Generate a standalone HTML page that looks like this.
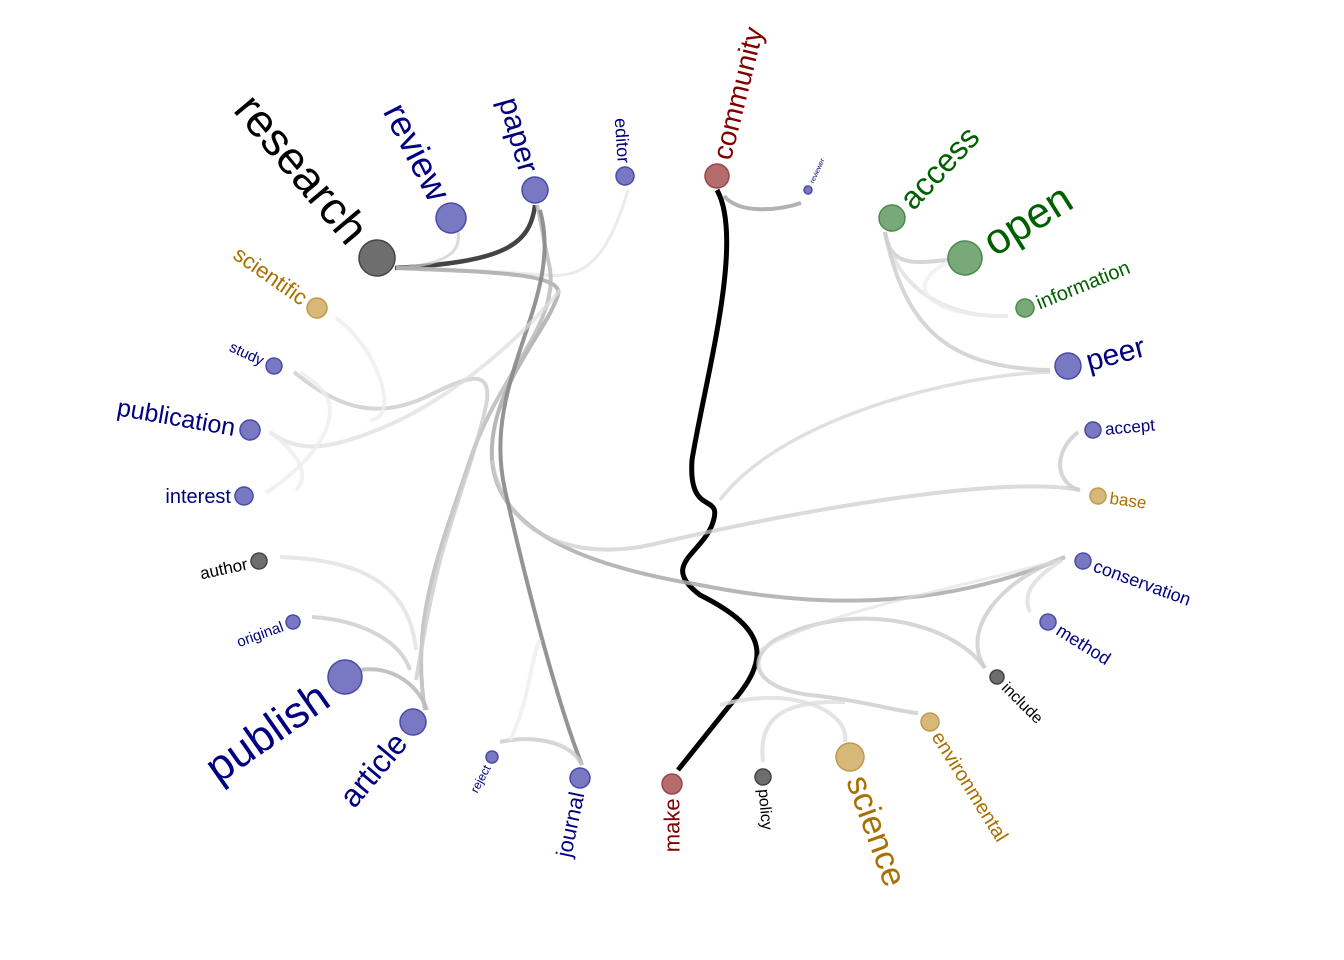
<!DOCTYPE html>
<html><head><meta charset="utf-8"><style>
html,body{margin:0;padding:0;background:#fff;}
svg{display:block;font-family:"Liberation Sans",sans-serif;}
</style></head><body>
<svg id="chart" width="1344" height="960" viewBox="0 0 1344 960">
<g id="links"></g>
<g id="nodes"></g>
</svg>
<script>
const words = ["research","review","paper","editor","community","reviewer","access","open","information","peer","accept","base","conservation","method","include","environmental","science","policy","make","journal","reject","article","publish","original","author","interest","publication","study","scientific"];
const xs = [377,451,535,625,717,808,892,965,1025,1068,1093,1098,1083,1048,997,930,850,763,672,580,492,413,345,293,259,244,250,274,317];
const ys = [258,218,190,176,176,190,218,258,308,366,430,496,561,622,677,722,757,777,784,778,757,722,677,622,561,496,430,366,308];
const radii = [18,15,13,9,12,4,13,17,9,13,8,8,8,8,7,9,14,8,10,10,6,13,17,7,8,9,10,8,10];
const groups = ["g","b","b","b","r","b","G","G","G","b","b","y","b","b","g","y","y","g","r","b","b","b","b","b","g","b","b","b","y"];
const fontSizes = [46,36,30,18,28,7,32,43,20,30,17,17,18,18,16,20,34,16,22,22,12,32,44,15,17,20,25,15,22];
const angles = [50,63,74,86,-76,-65,-47,-32,-22,-15,-5,8,20,32,45,58,70,85,-90,-78,-62,-50,-35,-20,-12,0,10,25,35];
const sides = ["e","e","e","e","s","s","s","s","s","s","s","s","s","s","s","s","s","s","e","e","e","e","e","e","e","e","e","e","e"];

const links = [
 ["M535,205 C530,245 505,262 395,268","#444",4.5,1],
 ["M458,232 C462,255 440,265 396,268","#ccc",3,0.7],
 ["M628,190 C610,250 590,280 545,275 C480,270 430,268 396,268","#ddd",3,0.6],
 ["M717,190 C745,240 705,380 692,460 C688,520 725,490 712,525 C700,555 660,565 700,595 C770,630 770,660 730,705 L678,770","#000",5,1],
 ["M724,196 C740,215 780,210 801,203","#aaa",4,0.9],
 ["M396,268 C480,272 565,272 558,295 C545,335 488,390 492,460 C498,540 610,570 700,585 C800,605 930,615 1065,557","#aaa",4,0.85],
 ["M492,460 C505,540 580,560 650,545 C800,510 1000,475 1080,490","#ccc",4,0.7],
 ["M1050,372 C950,375 780,420 720,500","#ccc",3.5,0.6],
 ["M425,710 C410,620 440,550 470,460 C500,370 565,320 548,260 C542,232 540,215 537,205","#bbb",4,0.85],
 ["M540,210 C565,300 480,380 505,490 C530,600 560,710 582,765","#888",4,0.9],
 ["M500,742 C530,735 570,740 582,765","#ccc",4,0.8],
 ["M510,740 C530,700 530,660 540,640","#eee",4,0.8],
 ["M360,670 C395,665 420,688 427,710","#bbb",4,0.9],
 ["M312,617 C360,620 400,640 410,670","#ccc",4,0.8],
 ["M280,557 C370,560 410,590 416,650","#ddd",4,0.7],
 ["M294,372 C340,410 380,420 430,395 C470,375 490,370 487,400 C480,440 460,490 440,560 C425,620 420,660 416,680","#ccc",4,0.8],
 ["M270,432 C300,455 335,450 400,420 C460,390 520,340 560,290","#ddd",4,0.7],
 ["M266,493 C300,470 330,440 330,410 C330,390 310,380 300,372","#eee",4,0.8],
 ["M270,432 C300,455 310,475 296,490","#eee",4,0.8],
 ["M336,318 C380,350 400,420 370,420","#eee",4,0.8],
 ["M885,232 C890,270 920,262 948,260","#ccc",4,0.8],
 ["M885,232 C900,300 960,318 1008,316","#ddd",4,0.7],
 ["M948,262 C895,290 940,318 1008,316","#eee",4,0.7],
 ["M885,232 C905,330 950,368 1050,370","#ccc",4,0.8],
 ["M1078,432 C1050,455 1058,485 1080,490","#ccc",4,0.8],
 ["M1065,557 C1000,580 960,630 985,668","#ccc",4,0.8],
 ["M1030,612 C1020,590 1040,575 1062,560","#ddd",4,0.8],
 ["M985,668 C950,620 850,600 775,640 C745,660 755,688 810,695 C860,700 900,712 918,713","#ccc",4,0.8],
 ["M845,742 C850,710 790,685 720,705","#ddd",4,0.8],
 ["M763,762 C758,720 780,700 845,702","#ddd",4,0.8],
 ["M1060,560 C950,590 830,610 760,650","#ddd",3,0.6]
];

const fill = {g:"#666",b:"#7272c0",r:"#b06464",G:"#72a472",y:"#d4b472"};
const stroke = {g:"#444",b:"#4a4aa8",r:"#984848",G:"#4a8a4a",y:"#c09a50"};
const txt = {g:"#000",b:"#000080",r:"#800000",G:"#006000",y:"#a87000"};
const NS = "http://www.w3.org/2000/svg";
const lg = document.getElementById("links");
links.forEach((l,i)=>{
  const p = document.createElementNS(NS,"path");
  p.setAttribute("d",l[0]);
  p.setAttribute("fill","none");
  p.setAttribute("stroke",l[1]);
  p.setAttribute("stroke-width",l[2]);
  p.setAttribute("stroke-opacity",l[3]);
  
  
  lg.appendChild(p);
});
const ng = document.getElementById("nodes");
words.forEach((w,i)=>{
  const g = document.createElementNS(NS,"g");
  g.setAttribute("transform",`translate(${xs[i]},${ys[i]}) rotate(${angles[i]})`);
  
  
  const c = document.createElementNS(NS,"circle");
  c.setAttribute("r",radii[i]);
  c.setAttribute("fill",fill[groups[i]]);
  c.setAttribute("fill-opacity",0.95);
  c.setAttribute("stroke",stroke[groups[i]]);
  c.setAttribute("stroke-width",1.5);
  
  
  g.appendChild(c);
  const t = document.createElementNS(NS,"text");
  const off = radii[i]+Math.max(4, fontSizes[i]*0.2);
  t.setAttribute("x", sides[i]==="s" ? off : -off);
  t.setAttribute("y", fontSizes[i]*0.35);
  t.setAttribute("text-anchor", sides[i]==="s" ? "start" : "end");
  t.setAttribute("font-size", fontSizes[i]);
  t.setAttribute("fill", txt[groups[i]]);
  t.textContent = w;
  
  
  g.appendChild(t);
  ng.appendChild(g);
});
</script>
</body></html>
